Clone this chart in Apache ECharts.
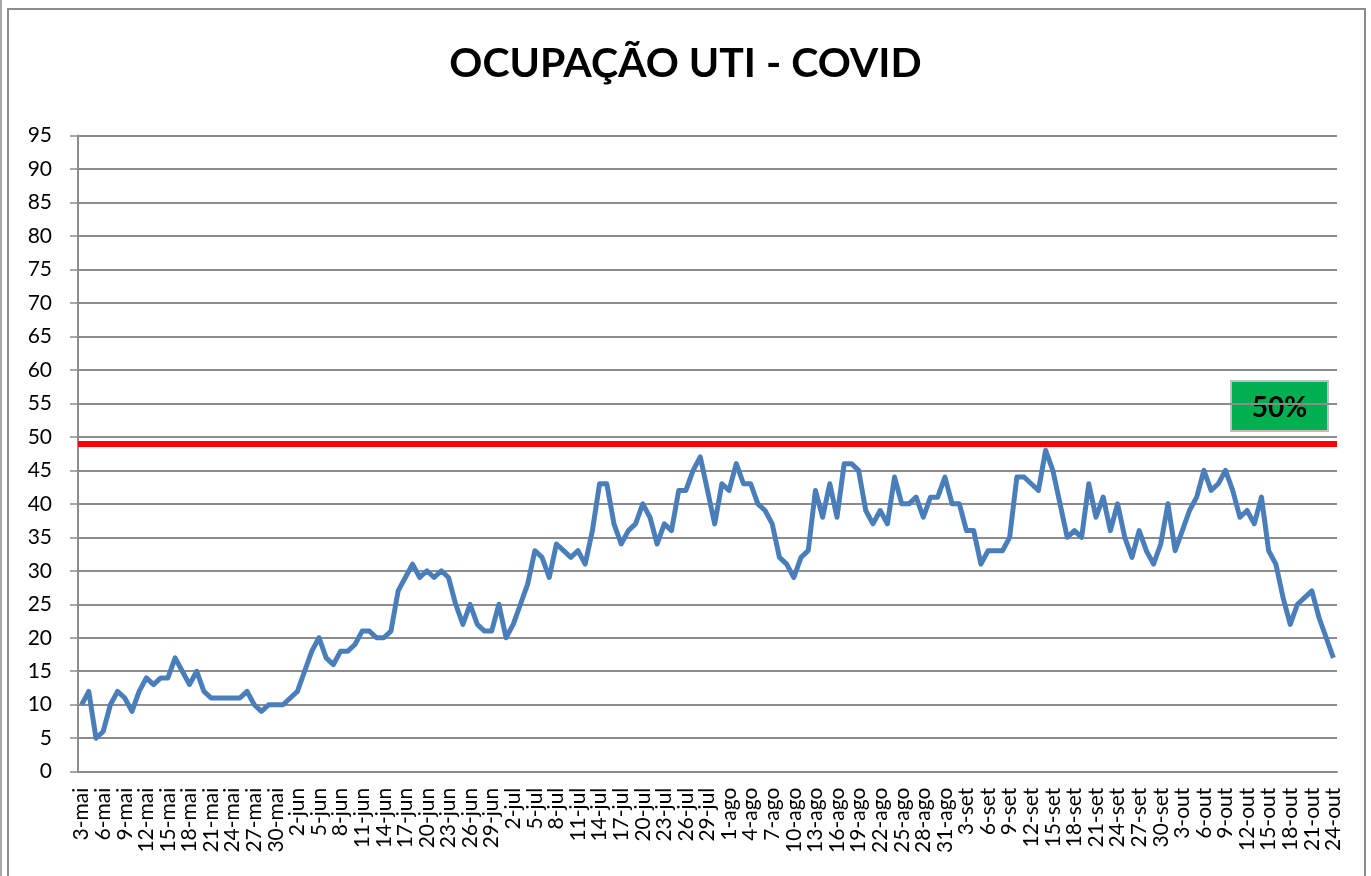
<!DOCTYPE html>
<html>
<head>
<meta charset="utf-8">
<title>Ocupação UTI - Covid</title>
<script src="https://cdn.jsdelivr.net/npm/echarts@6/dist/echarts.min.js"></script>
<style>
  html, body { margin: 0; padding: 0; background: #fff; }
  #myChart { width: 1371px; height: 876px; }
</style>
</head>
<body>
<div id="myChart"></div>
<script>
// meses do período: [nome, primeiro dia, último dia]
var months = [
  ["mai", 3, 31],
  ["jun", 1, 30],
  ["jul", 1, 31],
  ["ago", 1, 31],
  ["set", 1, 30],
  ["out", 1, 24]
];

// ocupação diária (%) de 3-mai a 24-out
var ocupacao = [
  10, 12, 5, 6, 10, 12, 11, 9, 12, 14, 13, 14, 14, 17, 15, 13, 15, 12, 11, 11,
  11, 11, 11, 12, 10, 9, 10, 10, 10, 11, 12, 15, 18, 20,
  17, 16, 18, 18, 19, 21, 21, 20, 20, 21, 27, 29, 31, 29, 30, 29, 30, 29, 25, 22,
  25, 22, 21, 21, 25, 20, 22, 25, 28, 33,
  32, 29, 34, 33, 32, 33, 31, 36, 43, 43, 37, 34, 36, 37, 40, 38, 34, 37, 36, 42,
  42, 45, 47, 42, 37, 43, 42, 46, 43, 43,
  40, 39, 37, 32, 31, 29, 32, 33, 42, 38, 43, 38, 46, 46, 45, 39, 37, 39, 37, 44,
  40, 40, 41, 38, 41, 41, 44, 40, 40, 36, 36, 31, 33, 33,
  33, 35, 44, 44, 43, 42, 48, 45, 40, 35, 36, 35, 43, 38, 41, 36, 40, 35, 32, 36,
  33, 31, 34,
  40, 33, 36, 39, 41, 45, 42, 43, 45, 42, 38, 39, 37, 41, 33, 31, 26, 22, 25, 26,
  27, 23, 20, 17
];

// linha de referência e rótulo
var limite = 49;
var limiteTexto = "50%";

var categorias = [];
for (var m = 0; m < months.length; m++) {
  for (var d = months[m][1]; d <= months[m][2]; d++) {
    categorias.push(d + "-" + months[m][0]);
  }
}

var FONT = "Lato, 'Liberation Sans', sans-serif";
var GRID_COLOR = "#8c8c8c";

var myChart = echarts.init(document.getElementById("myChart"));
myChart.setOption({
  backgroundColor: "#fff",
  animation: false,
  title: {
    text: "OCUPAÇÃO UTI - COVID",
    left: "center",
    top: 38,
    textStyle: {
      fontFamily: FONT,
      fontWeight: "bold",
      fontSize: 41,
      color: "#000"
    }
  },
  grid: {
    left: 78,
    right: 34,
    top: 135.5,
    bottom: 104.3
  },
  xAxis: {
    type: "category",
    data: categorias,
    boundaryGap: true,
    axisLine: { lineStyle: { color: GRID_COLOR, width: 2 } },
    axisTick: {
      interval: 2,
      length: 8,
      lineStyle: { color: GRID_COLOR, width: 1.5 }
    },
    axisLabel: {
      // um rótulo a cada 3 dias
      interval: function (index) {
        return index % 3 === 0;
      },
      rotate: 90,
      margin: 16,
      showMinLabel: true,
      showMaxLabel: true,
      hideOverlap: false,
      fontFamily: FONT,
      fontSize: 21,
      color: "#000"
    },
    splitLine: { show: false }
  },
  yAxis: {
    type: "value",
    min: 0,
    max: 95,
    interval: 5,
    axisLine: { show: true, lineStyle: { color: GRID_COLOR, width: 2 } },
    axisTick: { show: true, length: 8, lineStyle: { color: GRID_COLOR, width: 1.5 } },
    axisLabel: {
      margin: 26,
      fontFamily: FONT,
      fontSize: 21,
      color: "#000"
    },
    splitLine: { lineStyle: { color: GRID_COLOR, width: 2 } }
  },
  series: [
    {
      name: "Ocupação",
      type: "line",
      data: ocupacao,
      symbol: "none",
      lineStyle: { color: "#4a7ebb", width: 5, join: "round" },
      markLine: {
        silent: true,
        symbol: "none",
        label: { show: false },
        lineStyle: { color: "#ff0000", width: 6, type: "solid" },
        data: [{ yAxis: limite }]
      }
    }
  ],
  graphic: [
    // moldura do gráfico
    {
      type: "rect",
      shape: { x: 8, y: 9, width: 1357, height: 880 },
      style: { fill: "none", stroke: "#8c8c8c", lineWidth: 2 },
      silent: true
    },
    {
      type: "line",
      shape: { x1: 1, y1: 0, x2: 1, y2: 876 },
      style: { stroke: "#8c8c8c", lineWidth: 1.5 },
      silent: true
    },
    // caixa verde "50%"
    {
      type: "group",
      left: 1230,
      top: 380,
      children: [
        {
          type: "rect",
          shape: { x: 0, y: 0, width: 97, height: 50 },
          style: { fill: "#00b050", stroke: "#bfbfbf", lineWidth: 2 }
        },
        {
          type: "text",
          x: 48.5,
          y: 27,
          style: {
            text: limiteTexto,
            fill: "#000",
            font: "bold 28px " + FONT,
            align: "center",
            verticalAlign: "middle"
          }
        }
      ]
    }
  ]
});
</script>
</body>
</html>
